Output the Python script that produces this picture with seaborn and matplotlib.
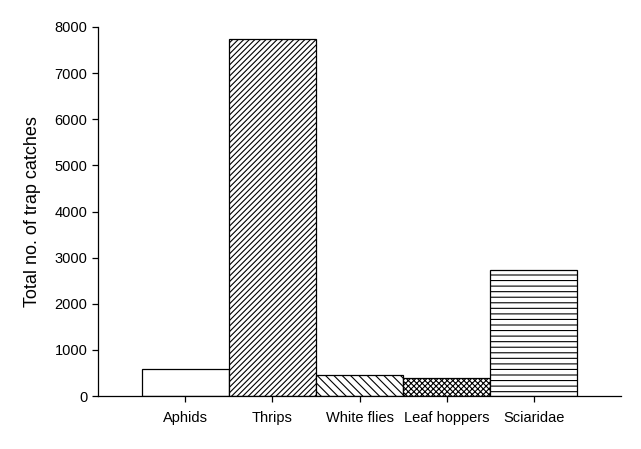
import matplotlib
matplotlib.use("Agg")
import matplotlib.pyplot as plt
import seaborn as sns
import pandas as pd

categories = ["Aphids", "Thrips", "White flies", "Leaf hoppers", "Sciaridae"]
catches = [580, 7730, 460, 390, 2740]
hatches = ["", "//////", "\\\\\\\\", "xxxxxx", "---"]
y_ticks = [0, 1000, 2000, 3000, 4000, 5000, 6000, 7000, 8000]

sns.set_style("ticks")
plt.rcParams["font.family"] = ["Liberation Sans", "DejaVu Sans"]
plt.rcParams["hatch.linewidth"] = 0.8

df = pd.DataFrame({"cat": categories, "val": catches})

fig = plt.figure(figsize=(6.41, 4.49), dpi=100)
ax = fig.add_axes([98 / 641, 1 - 396 / 449, (621 - 98) / 641, (396 - 27) / 449])
sns.barplot(data=df, x="cat", y="val", color="white", saturation=1,
            edgecolor="black", linewidth=0.9, width=1, ax=ax)
for patch, h in zip(ax.patches, hatches):
    patch.set_hatch(h)
    patch.set_edgecolor("black")

ax.set_xlim(-1, 5)
ax.set_ylim(0, 8000)
ax.set_yticks(y_ticks)
ax.set_yticklabels([str(t) for t in y_ticks])
ax.set_xlabel("")
ax.set_ylabel("Total no. of trap catches", fontsize=13, labelpad=10, color="black")
ax.tick_params(axis="both", labelsize=10.5, length=4, width=0.9,
               color="black", labelcolor="black")
ax.tick_params(axis="x", pad=7)
for s in ["left", "bottom"]:
    ax.spines[s].set_linewidth(0.9)
    ax.spines[s].set_color("black")
sns.despine(ax=ax)

fig.savefig("out.png", dpi=100)
